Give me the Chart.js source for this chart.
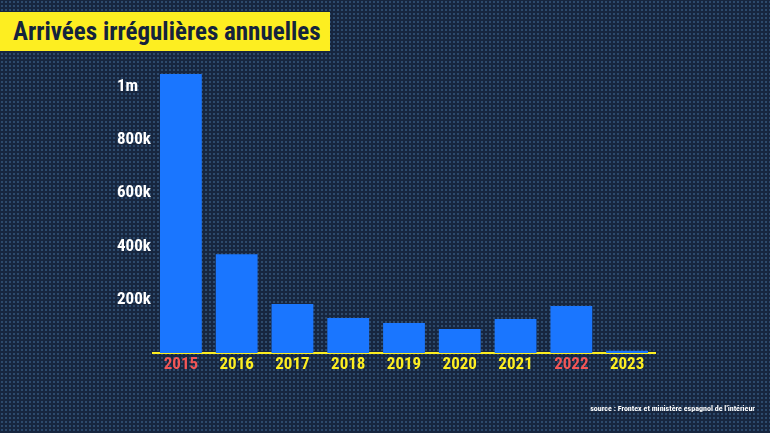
<!DOCTYPE html>
<html>
<head>
<meta charset="utf-8">
<script src="https://cdn.jsdelivr.net/npm/chart.js@4"></script>
<style>
  html, body {
    margin: 0;
    padding: 0;
    width: 770px;
    height: 433px;
    overflow: hidden;
  }
  body {
    position: relative;
    background-color: #17263f;
    background-image: radial-gradient(circle, #2d4a6c 0.9px, transparent 1.2px);
    background-size: 4px 4px;
    font-family: "Roboto Condensed", "Liberation Sans Narrow", "DejaVu Sans Condensed", Roboto, sans-serif;
  }
  #title {
    position: absolute;
    left: 0;
    top: 12px;
    height: 39px;
    width: 330px;
    background: #fdee21;
    color: #14233d;
    font-weight: bold;
    font-size: 25px;
    line-height: 39px;
    padding-left: 13px;
    box-sizing: border-box;
    white-space: nowrap;
  }
  #source {
    position: absolute;
    right: 15px;
    top: 404px;
    color: #ffffff;
    font-weight: bold;
    font-size: 8px;
    white-space: nowrap;
  }
  canvas {
    position: absolute;
    left: 0;
    top: 0;
  }
</style>
</head>
<body>
<canvas id="chart" width="770" height="433"></canvas>
<div id="title">Arrivées irrégulières annuelles</div>
<div id="source">source : Frontex et ministère espagnol de l'intérieur</div>

<script>
// données
const years = ["2015", "2016", "2017", "2018", "2019", "2020", "2021", "2022", "2023"];
const arrivals = [1047000, 371000, 184000, 131000, 113000, 90000, 128000, 176000, 8000];
const redYears = ["2015", "2022"];
const yTickValues = [200000, 400000, 600000, 800000, 1000000];
const yTickLabels = ["200k", "400k", "600k", "800k", "1m"];

const FONT = "'Roboto Condensed', 'Liberation Sans Narrow', 'DejaVu Sans Condensed', Roboto, sans-serif";

new Chart(document.getElementById("chart"), {
    type: "bar",
    data: {
        labels: years,
        datasets: [{
            data: arrivals,
            backgroundColor: "#1a76ff",
            borderWidth: 0,
            barPercentage: 0.75,
            categoryPercentage: 1
        }]
    },
    options: {
        responsive: false,
        animation: false,
        layout: {
            padding: { left: 117, right: 115, top: 60, bottom: 0 }
        },
        plugins: {
            legend: { display: false },
            tooltip: { enabled: false }
        },
        scales: {
            x: {
                z: 1,
                grid: { display: false },
                border: { color: "#fdee21", width: 2 },
                ticks: {
                    padding: -6,
                    font: { family: FONT, size: 17, weight: "bold" },
                    color: ctx => redYears.includes(years[ctx.index]) ? "#f25656" : "#fdee21"
                },
                afterFit: scale => { scale.height = 80; }
            },
            y: {
                min: 0,
                max: 1100000,
                grid: { display: false },
                border: { display: false },
                afterBuildTicks: scale => {
                    scale.ticks = yTickValues.map(v => ({ value: v }));
                },
                ticks: {
                    crossAlign: "far",
                    padding: 2,
                    font: { family: FONT, size: 17, weight: "bold" },
                    color: "#ffffff",
                    callback: v => yTickLabels[yTickValues.indexOf(v)]
                },
                afterFit: scale => { scale.width = 36; }
            }
        }
    }
});
</script>
</body>
</html>
